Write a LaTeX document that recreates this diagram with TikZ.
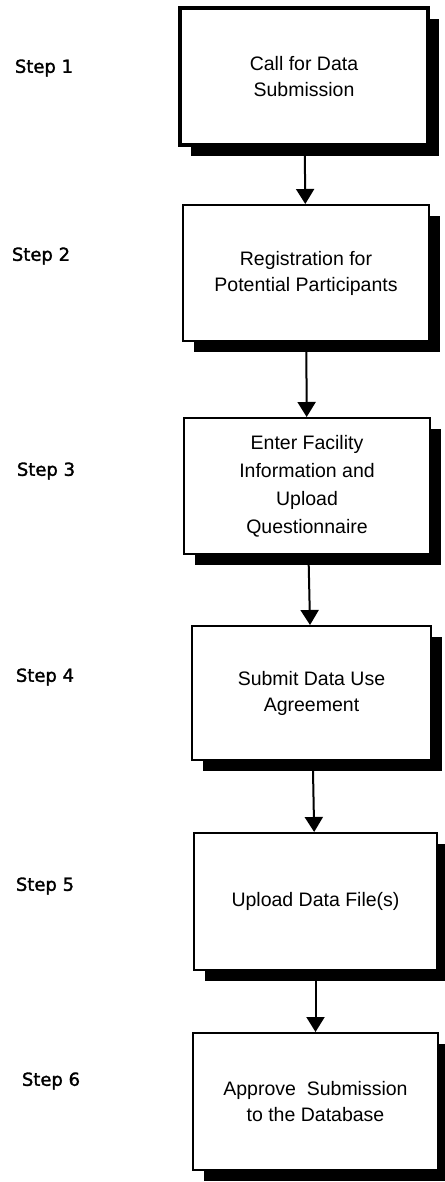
\documentclass[tikz,border=0pt]{standalone}
\usepackage{fontspec}
\setmainfont{Liberation Sans}
\newfontfamily\labelfont[FakeBold=1.6]{DejaVu Sans}
\usetikzlibrary{arrows.meta,shadows}

\tikzset{
  stepbox/.style={rectangle, draw=black, fill=white, line width=2pt,
    minimum width=246pt, minimum height=136pt, align=center,
    font=\fontsize{19.5}{26}\selectfont,
    drop shadow={shadow xshift=11pt, shadow yshift=-11pt, fill=black, opacity=1}},
  steplabel/.style={font=\labelfont\fontsize{18}{20}\selectfont},
  flow/.style={line width=2pt, -{Triangle[width=18pt,length=15pt]}}
}

\begin{document}
\begin{tikzpicture}[x=1pt,y=-1pt]
  \useasboundingbox (0,0) rectangle (444,1182);

  % the six boxes, top to bottom
  \node[stepbox, line width=4pt, minimum width=248pt, minimum height=137pt] (call) at (304,76.5) {Call for Data\\Submission};
  \node[stepbox] (register) at (306,273) {Registration for\\Potential Participants};
  \node[stepbox, font=\fontsize{19.5}{28}\selectfont] (facility) at (307,486) {Enter Facility\\Information and\\Upload\\Questionnaire};
  \node[stepbox, minimum width=239pt, minimum height=134pt] (agree) at (311.5,693) {Submit Data Use\\Agreement};
  \node[stepbox, minimum width=243pt, minimum height=137pt] (upload) at (315.5,901.5) {Upload Data File(s)};
  \node[stepbox, minimum width=245pt, minimum height=137pt] (approve) at (315.5,1101.5) {Approve\ \ Submission\\to the Database};

  % step numbers on the left
  \node[steplabel] (s1) at (44,68) {Step 1};
  \node[steplabel] (s2) at (41,256) {Step 2};
  \node[steplabel] (s3) at (46,471) {Step 3};
  \node[steplabel] (s4) at (45,677) {Step 4};
  \node[steplabel] (s5) at (45,886) {Step 5};
  \node[steplabel] (s6) at (51,1081) {Step 6};

  \foreach \from/\to in {call/register, register/facility, facility/agree, agree/upload, upload/approve}
    \draw[flow] (\from) -- (\to);
\end{tikzpicture}
\end{document}
